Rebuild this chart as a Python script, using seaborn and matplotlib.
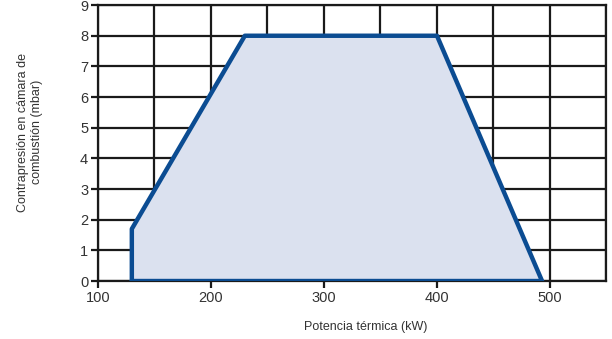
import matplotlib
matplotlib.use("Agg")
import matplotlib.pyplot as plt
import seaborn as sns
import pandas as pd

potencia = [130, 130, 230, 400, 493, 130]
contrapresion = [0, 1.7, 8, 8, 0, 0]
x_ticks = [100, 200, 300, 400, 500]
y_ticks = [0, 1, 2, 3, 4, 5, 6, 7, 8, 9]

sns.set_style("white")
plt.rcParams['font.family'] = ['Liberation Sans', 'DejaVu Sans']

fig = plt.figure(figsize=(6.12, 3.39), dpi=100)
ax = fig.add_axes([0.160, 0.171, 0.831, 0.814])

df = pd.DataFrame({"x": potencia, "y": contrapresion})
ax.fill(df["x"], df["y"], color="#dbe1ef", zorder=2)
sns.lineplot(data=df, x="x", y="y", sort=False, estimator=None, color="#0b4c92",
             linewidth=3.2, ax=ax, zorder=3)

ax.set_xlim(100, 550)
ax.set_ylim(0, 9)
ax.set_xticks(x_ticks)
ax.set_xticks(range(100, 551, 50), minor=True)
ax.set_yticks(y_ticks)
ax.grid(True, which="both", color="#1a1a1a", linewidth=1.6, zorder=1)
ax.set_axisbelow(True)
for s in ax.spines.values():
    s.set_color("#1a1a1a")
    s.set_linewidth(1.6)
ax.tick_params(axis="both", which="major", length=5, width=1.6, color="#1a1a1a",
               labelsize=10.5, labelcolor="#333333", pad=2, bottom=True, left=True)
ax.tick_params(axis="x", which="minor", length=0)
ax.set_xlabel("Potencia térmica (kW)", fontsize=9, color="#333333")
ax.xaxis.set_label_coords(0.527, -0.145)
ax.set_ylabel("Contrapresión en cámara de\ncombustión (mbar)", fontsize=9,
              color="#333333", linespacing=1.25, multialignment="center")
ax.yaxis.set_label_coords(-0.108, 0.54)

fig.savefig("out.png", dpi=100)
